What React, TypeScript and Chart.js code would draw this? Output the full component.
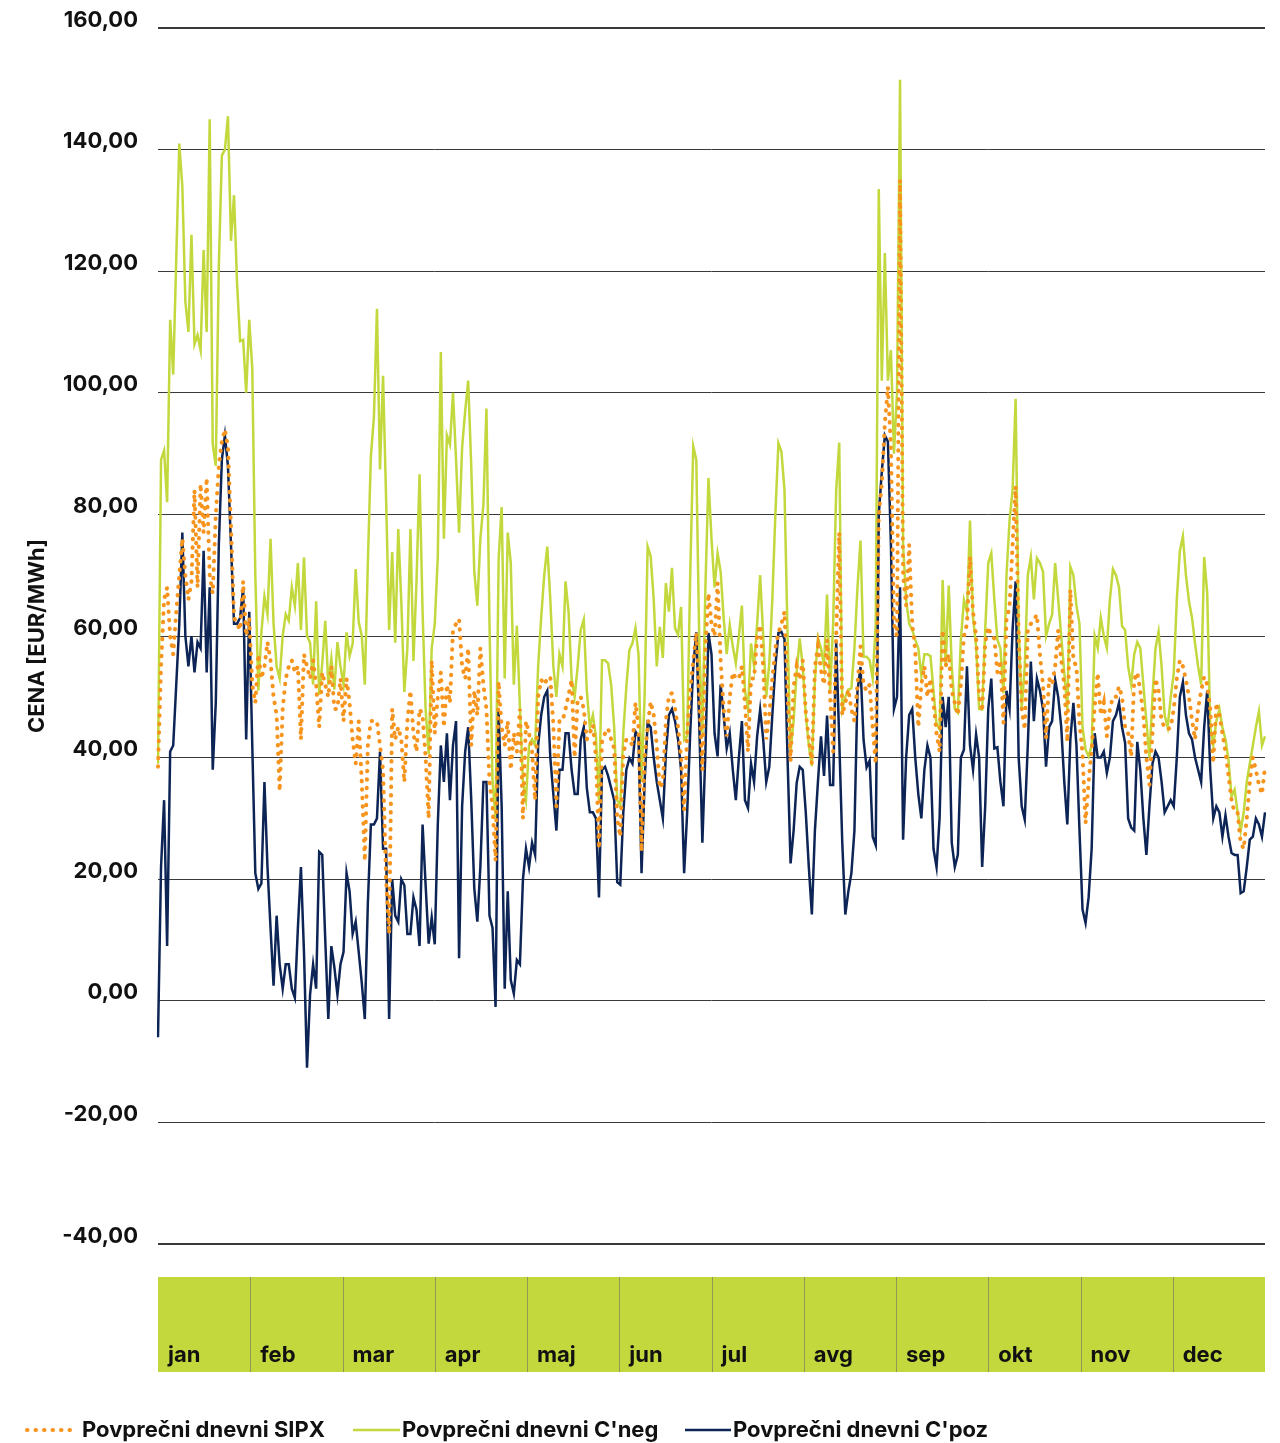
import React, { useEffect, useRef } from "react";
import { Chart, registerables } from "chart.js";

Chart.register(...registerables);

// Month names shown in the band under the plot
const months = ["jan", "feb", "mar", "apr", "maj", "jun", "jul", "avg", "sep", "okt", "nov", "dec"];

// Y axis ticks
const yMin = -40;
const yMax = 160;
const yStep = 20;

const seriesLabels = ["Povprečni dnevni SIPX", "Povprečni dnevni C'neg", "Povprečni dnevni C'poz"];

// Average daily SIPX price (EUR/MWh), one value per day
const sipx = [
  // jan
  38.5, 55, 66, 68, 60, 57, 64, 70, 76, 70, 66, 69, 84, 68, 85, 77, 86, 70, 67, 80, 88, 92, 94, 91, 78, 63, 62, 61, 69, 60, 63,
  // feb
  52, 49, 57, 53, 55, 59, 56, 50, 47, 34.5, 48, 53, 55, 56, 54, 55, 43, 57, 55, 53, 56, 52, 45, 54, 52, 50, 55, 48,
  // mar
  48, 53, 46, 53, 49, 43, 39, 46, 36, 23, 42, 46, 46, 46, 42, 38, 20, 11, 48, 43, 45, 43, 36, 46, 51, 44, 41, 48, 47, 40, 30,
  // apr
  56, 44, 50, 54, 45, 52, 49, 61, 62, 62.8, 55, 53, 58, 42, 51, 47, 58, 52, 48, 36, 32, 23, 52.5, 45, 42, 46, 38, 44, 41, 48,
  // maj
  30, 46, 44, 41, 33, 50, 52.8, 52, 53, 53.3, 45.4, 32, 46, 46, 48, 50.3, 52.8, 40, 49.5, 50, 48, 43, 44, 45.4, 40, 25, 42.6, 44, 44.8, 43, 41.5,
  // jun
  30, 27, 40.5, 43, 42.9, 42, 49, 45, 24.6, 40, 45, 49.2, 47, 42, 35, 36, 46, 50.3, 50.6, 48.1, 45, 40, 31.4, 44, 51, 56, 60.5, 50, 38, 58,
  // jul
  67, 62, 60, 68.7, 56, 48, 43.5, 50, 54, 53, 53, 55, 49, 41, 53, 53, 60, 61.8, 55, 43, 47, 53, 58, 60.5, 62, 64, 50.6, 39.4, 51.7, 55, 52.8,
  // avg
  56, 47.5, 43, 39, 55, 58.3, 54.4, 52, 59.4, 50, 41, 60, 77, 47, 49, 51.2, 48, 46, 52, 58.3, 52, 51, 52, 45, 39, 80, 85, 95, 101, 91, 62,
  // sep
  60, 135, 70, 65, 75, 62, 57.6, 45, 52, 55, 50, 53, 49, 44, 41, 61, 55, 57, 51, 49, 47, 52, 60, 62, 73, 64, 60, 50, 47.6, 58.9,
  // okt
  61.5, 60, 59.6, 54, 56, 45.7, 62.7, 64.9, 75, 84.6, 60, 47.9, 44.6, 61, 62, 62.7, 63.5, 57, 52, 43.2, 53, 52, 55, 61, 56, 52, 42.6, 67.6, 56, 55, 45.7,
  // nov
  40.7, 29.2, 36, 41.3, 48.4, 53.9, 47, 49, 43.5, 48, 50, 50, 51.7, 50, 45, 44, 40.2, 52.8, 54, 51, 47, 40, 35.5, 44, 53, 51, 46, 45, 44.6, 45,
  // dec
  48, 53, 56, 55, 52.8, 50, 46.2, 43, 48, 51, 53.3, 52, 48, 39.1, 49, 47, 44, 41, 37, 33, 31, 30.9, 26, 25, 30, 36, 40, 38, 35.5, 34, 38.5,
];

// Average daily C'neg price (EUR/MWh)
const cNeg = [
  // jan
  39, 89, 90.5, 82, 112, 103, 122, 141, 134, 115, 110, 126, 108, 109.5, 107, 123.5, 110, 145, 91.5, 88, 121, 139, 140, 145.5, 125, 132.5, 118, 108.5, 108.7, 100, 112,
  // feb
  104, 70, 51, 60.6, 66.5, 63.6, 76, 62, 55, 53, 60, 63.6, 62.5, 68, 65, 72, 61, 72.9, 60, 58.9, 52, 65.7, 50.3, 55.4, 62.5, 52, 56.3, 51.2,
  // mar
  59, 55, 52, 60.6, 56.7, 58.7, 71, 62.3, 60, 52, 72, 89.6, 96, 113.8, 87.4, 102.8, 82.7, 61, 73.8, 58.9, 77.6, 65.7, 50.8, 58, 77.6, 55.9, 69, 86.6, 64, 47.9, 40.6,
  // apr
  58, 62, 73, 106.7, 76, 93, 91.5, 100, 89, 77, 91, 97, 102, 88, 70.6, 65, 76, 81.6, 97.4, 62, 36, 30, 72.7, 81.2, 53, 77, 72, 52, 61.7, 48.4,
  // maj
  36, 33, 42, 43, 42, 55, 63, 70, 74.7, 66, 55, 50, 57, 55, 69, 64, 53, 50, 55, 61, 62.7, 51, 45, 47, 43.5, 33, 56, 56, 55.5, 52, 45,
  // jun
  33, 32, 44, 51.7, 57.7, 58.8, 61.3, 57, 36, 50, 74.7, 73.1, 66, 55, 61.5, 56.4, 68.7, 64, 71.2, 61.3, 60.2, 64.8, 42.9, 43.5, 70, 91.2, 89, 58.3, 44, 68,
  // jul
  86, 76, 68, 73.6, 70.6, 63, 57, 61.8, 58.3, 55.5, 60, 65, 51, 48, 58.8, 55, 62, 70, 60, 50, 55.5, 66, 80, 91.7, 90.3, 84, 60.5, 41, 46, 54, 59.6,
  // avg
  55, 47, 42, 38.6, 52.6, 59.7, 58, 55, 66.8, 50.9, 62, 84, 91.8, 48, 50, 51.2, 51.4, 58, 68, 75.7, 56.6, 56.6, 56, 53, 62, 133.5, 102, 123, 102, 107, 90,
  // sep
  100, 151.5, 75, 66, 62, 61, 59.4, 58, 53.5, 57, 57, 56.7, 51, 45.5, 44.6, 69.2, 55, 68.3, 55, 48, 47.4, 59.4, 65.9, 64, 79, 63, 58.3, 48, 47.9, 61,
  // okt
  72, 73.6, 66, 59.4, 58, 50.6, 70, 79, 84, 99, 62, 48, 55, 70, 73, 66, 72.8, 72, 70.6, 60, 62, 63.5, 72, 66, 60, 54, 48, 71.4, 70, 65, 62,
  // nov
  45, 41.3, 40.2, 42, 60, 58, 63, 60, 58, 66, 71, 70, 68, 61.6, 61, 55, 52, 57, 59, 58, 52, 46, 40, 50, 58, 60.7, 55, 47, 45, 50,
  // dec
  53.9, 66, 74, 76.4, 70, 65.7, 63, 58.8, 55, 52, 73, 67, 45, 42, 46, 48, 45, 43, 39.6, 33.6, 34.7, 31, 28, 31, 36, 39, 42, 45, 47.6, 42, 43.5,
];

// Average daily C'poz price (EUR/MWh)
const cPoz = [
  // jan
  -6, 22, 33, 9, 41, 42, 52, 62, 77, 60, 55, 60, 54, 59, 58, 74, 54, 68, 38, 49, 75, 89, 93, 88, 75, 62, 62, 63, 68, 43, 64,
  // feb
  42, 21, 18.4, 19.3, 36, 22, 12, 2.5, 14, 6, 2, 6, 6, 2, 0.5, 12, 22, 8, -11, 1, 6, 2, 24.5, 24, 10, -3, 9, 5.5,
  // mar
  1, 6, 8, 21, 18, 11, 13, 8, 3, -3, 16, 29, 29, 30, 41, 25, 25, -3, 20, 14, 13, 20, 19, 11, 11, 17, 15, 9, 29, 19, 9.4,
  // apr
  13.7, 9.3, 29, 42, 36, 44, 33, 42, 46, 7, 32, 41, 45, 33, 18.5, 13, 22, 36, 36, 14, 12, -1, 47.7, 32, 2, 18, 3.4, 1.2, 6.7, 6,
  // maj
  20, 25, 22, 26, 24, 42, 47, 50, 51, 40, 34, 28, 38, 38, 44, 44, 38, 34, 34, 43, 45, 35, 31, 31, 30, 17, 38, 38.5, 37, 35, 33,
  // jun
  19.5, 19.1, 31, 38, 39.9, 39, 44.3, 43.5, 21, 36, 45.7, 45, 40, 36, 33, 30, 40.7, 47, 48, 46, 43, 38, 21, 31, 44, 55, 60.6, 45, 26, 41,
  // jul
  60.5, 57, 44, 40.2, 52, 47, 41.5, 44, 38, 33, 40, 46, 33, 31.7, 39, 36, 43.5, 47.9, 43, 36, 38.5, 47, 55, 60.5, 60.7, 59.5, 40, 22.6, 28, 35.8, 38.5,
  // avg
  38, 31, 22, 14.2, 28, 36, 43.5, 37, 46.9, 35.5, 35.5, 59, 43, 26, 14.2, 18, 21, 28, 50.9, 54.9, 42.9, 38.4, 39.5, 27, 25.6, 80, 87, 93, 92, 75, 48,
  // sep
  50, 68, 26.5, 40, 47, 48, 40, 34, 30, 38, 42, 40, 25, 22, 30, 50, 45, 50, 26, 22, 24, 40, 41.3, 55, 42, 38, 43.8, 40, 22, 32,
  // okt
  48, 53, 41.5, 41.7, 36, 32, 51, 48, 61, 69, 40, 32, 29.8, 42, 55.8, 46, 53, 51, 48, 38.5, 45, 46, 52.8, 50, 45, 36, 29, 43, 49, 42, 28,
  // nov
  15, 12.8, 17, 25, 44, 40, 40, 41, 37.5, 40, 46, 47, 49, 45, 42.4, 30, 28.5, 28, 42.6, 38, 30, 24, 32, 39, 41, 40, 36, 31, 32, 33,
  // dec
  32, 40, 50, 52.4, 47, 44, 43, 40, 38, 36, 45, 51, 38, 30, 32, 31, 27, 30.5, 27, 24.3, 24, 24, 17.7, 18, 22, 26.5, 27, 30, 29, 27, 31,
];

const dayLabels = sipx.map((_, i) => String(i + 1));

const COLORS = {
  sipx: "#f7941d",
  cNeg: "#c3d83c",
  cPoz: "#0c2456",
  band: "#c3d83c",
  text: "#111111",
  grid: "#3a3a3a",
};

const FONT = "Inter, 'Open Sans', sans-serif";
const SIPX_DASH = [0.5, 8];

const formatTick = (v: number) => v.toFixed(2).replace(".", ",");

const bandAndLegend = {
  id: "bandAndLegend",
  afterDraw(chart: any) {
    const { ctx, chartArea } = chart;
    const left = chartArea.left;
    const right = chartArea.right;
    const top = chartArea.bottom + 33;
    const bottom = chartArea.bottom + 128;
    ctx.save();
    ctx.fillStyle = COLORS.band;
    ctx.fillRect(left, top, right - left, bottom - top);
    const w = (right - left) / months.length;
    ctx.strokeStyle = "#8d9a55";
    ctx.lineWidth = 1;
    for (let i = 1; i < months.length; i++) {
      const x = Math.round(left + i * w) + 0.5;
      ctx.beginPath();
      ctx.moveTo(x, top);
      ctx.lineTo(x, bottom);
      ctx.stroke();
    }
    ctx.fillStyle = COLORS.text;
    ctx.font = `bold 22px ${FONT}`;
    ctx.textBaseline = "alphabetic";
    ctx.textAlign = "left";
    months.forEach((m, i) => {
      ctx.fillText(m, left + i * w + 10, bottom - 10);
    });

    // legend
    const ly = chartArea.bottom + 186;
    const items = [
      { x0: 27, x1: 75, tx: 82, color: COLORS.sipx, width: 4, dash: SIPX_DASH },
      { x0: 353, x1: 400, tx: 402, color: COLORS.cNeg, width: 2.5, dash: [] as number[] },
      { x0: 685, x1: 731, tx: 733, color: COLORS.cPoz, width: 2.5, dash: [] as number[] },
    ];
    items.forEach((it, i) => {
      ctx.beginPath();
      ctx.setLineDash(it.dash);
      ctx.lineCap = it.dash.length ? "round" : "butt";
      ctx.strokeStyle = it.color;
      ctx.lineWidth = it.width;
      ctx.moveTo(it.x0, ly);
      ctx.lineTo(it.x1, ly);
      ctx.stroke();
      ctx.setLineDash([]);
      ctx.fillStyle = COLORS.text;
      ctx.font = `bold 22px ${FONT}`;
      ctx.textBaseline = "middle";
      ctx.fillText(seriesLabels[i], it.tx, ly);
    });
    ctx.restore();
  },
};

export default function App() {
  const ref = useRef<HTMLCanvasElement | null>(null);

  useEffect(() => {
    document.body.style.margin = "0";
    const canvas = ref.current;
    if (!canvas) return;
    const chart = new Chart(canvas, {
      type: "line",
      data: {
        labels: dayLabels,
        datasets: [
          {
            label: seriesLabels[0],
            data: sipx,
            borderColor: COLORS.sipx,
            backgroundColor: COLORS.sipx,
            borderWidth: 4,
            borderDash: SIPX_DASH,
            borderCapStyle: "round",
            pointRadius: 0,
            tension: 0,
            order: 0,
          },
          {
            label: seriesLabels[1],
            data: cNeg,
            borderColor: COLORS.cNeg,
            backgroundColor: COLORS.cNeg,
            borderWidth: 2.5,
            pointRadius: 0,
            tension: 0,
            order: 2,
          },
          {
            label: seriesLabels[2],
            data: cPoz,
            borderColor: COLORS.cPoz,
            backgroundColor: COLORS.cPoz,
            borderWidth: 2.5,
            pointRadius: 0,
            tension: 0,
            order: 1,
          },
        ],
      },
      options: {
        responsive: false,
        animation: false,
        devicePixelRatio: 1,
        layout: { padding: { left: 0, right: 15, top: 28, bottom: 0 } },
        plugins: {
          legend: { display: false },
          tooltip: { enabled: false },
        },
        scales: {
          x: {
            type: "category",
            offset: false,
            grid: { display: false, drawTicks: false },
            border: { display: false },
            ticks: { display: false },
            afterFit: (s: any) => {
              s.height = 199;
            },
          },
          y: {
            min: yMin,
            max: yMax,
            ticks: {
              stepSize: yStep,
              callback: (v: any) => formatTick(Number(v)),
              font: { family: FONT, weight: "bold", size: 22 },
              color: COLORS.text,
              padding: 20,
              labelOffset: -8,
            },
            grid: {
              color: COLORS.grid,
              lineWidth: (c: any) => (c.tick && (c.tick.value === yMax || c.tick.value === yMin) ? 2 : 1),
              drawTicks: false,
            },
            border: { display: false },
            title: {
              display: true,
              text: "CENA [EUR/MWh]",
              font: { family: FONT, weight: "bold", size: 22 },
              color: COLORS.text,
              padding: { top: 24, bottom: 0 },
            },
            afterFit: (s: any) => {
              s.width = 158;
              s.paddingTop = 0;
              s.paddingBottom = 0;
            },
          },
        },
      },
      plugins: [bandAndLegend],
    });
    return () => chart.destroy();
  }, []);

  return (
    <div style={{ width: 1280, height: 1443 }}>
      <canvas ref={ref} width={1280} height={1443} style={{ display: "block", width: 1280, height: 1443 }} />
    </div>
  );
}
